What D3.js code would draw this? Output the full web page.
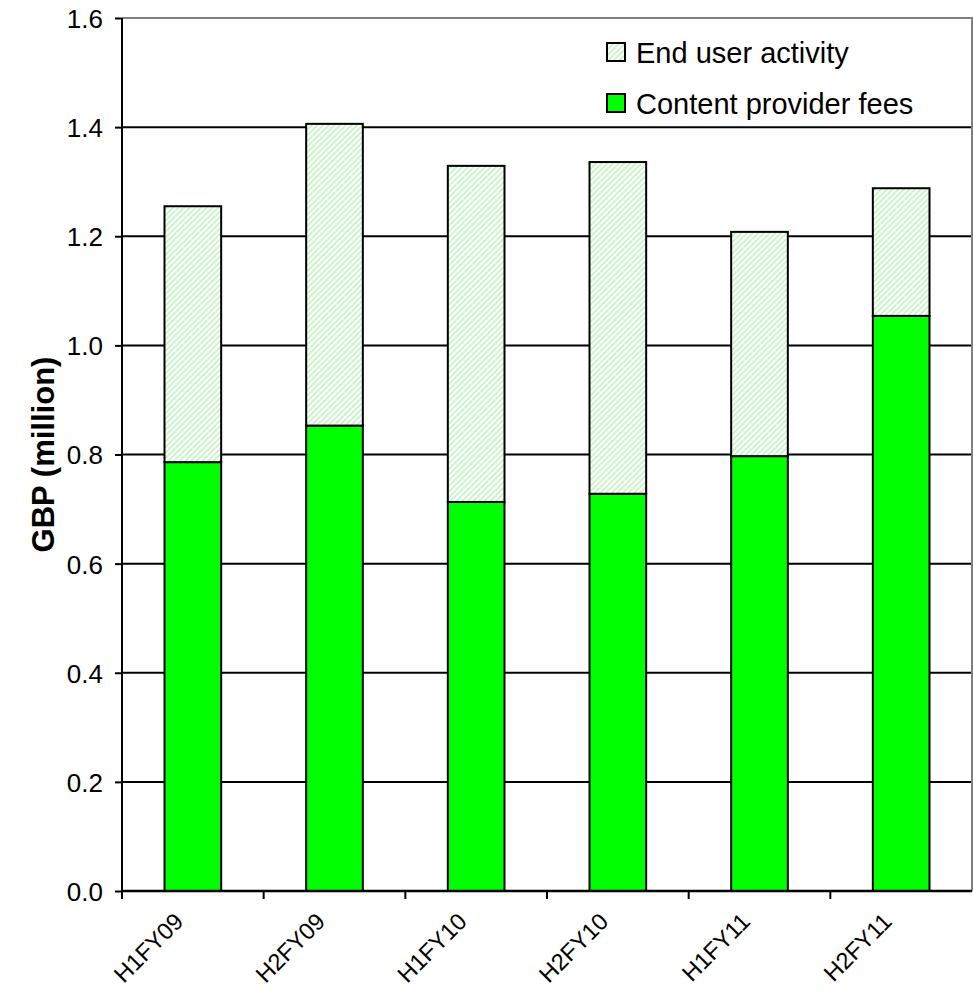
<!DOCTYPE html>
<html>
<head>
<meta charset="utf-8">
<script src="https://cdn.jsdelivr.net/npm/d3@7"></script>
<style>
  html, body { margin: 0; padding: 0; background: #fff; }
  svg { display: block; font-family: "Liberation Sans", Arial, sans-serif; }
</style>
</head>
<body>
<svg id="chart" width="973" height="991"></svg>
<script>
// Half-year periods and revenue split (GBP million)
const categories = ["H1FY09", "H2FY09", "H1FY10", "H2FY10", "H1FY11", "H2FY11"];
const contentProviderFees = [0.786, 0.853, 0.713, 0.728, 0.797, 1.054];
const totalRevenue = [1.255, 1.406, 1.329, 1.336, 1.208, 1.288];
const endUserActivity = totalRevenue.map((t, i) => +(t - contentProviderFees[i]).toFixed(3));
const yTicks = [0, 0.2, 0.4, 0.6, 0.8, 1.0, 1.2, 1.4, 1.6];
const seriesNames = ["End user activity", "Content provider fees"];

const svg = d3.select("#chart");
const plotLeft = 122, plotRight = 972, plotTop = 18, plotBottom = 891;

const x = d3.scaleBand().domain(categories).range([plotLeft, plotRight]).paddingInner(0.6).paddingOuter(0.3);
const y = d3.scaleLinear().domain([0, 1.6]).range([plotBottom, plotTop]);

// diagonal light-green hatch
const defs = svg.append("defs");
const pat = defs.append("pattern")
  .attr("id", "hatch").attr("patternUnits", "userSpaceOnUse")
  .attr("width", 4).attr("height", 4)
  .attr("patternTransform", "rotate(45)");
pat.append("rect").attr("width", 4).attr("height", 4).attr("fill", "#ffffff");
pat.append("rect").attr("width", 2).attr("height", 4).attr("fill", "#ccf5cc");

// gridlines
svg.append("g").selectAll("line").data(yTicks.filter(d => d > 0 && d < 1.6)).join("line")
  .attr("x1", plotLeft).attr("x2", plotRight)
  .attr("y1", d => y(d)).attr("y2", d => y(d))
  .attr("stroke", "#000").attr("stroke-width", 2);

// plot border (top and right)
svg.append("path")
  .attr("d", `M${plotLeft},${plotTop}H${plotRight}V${plotBottom}`)
  .attr("fill", "none").attr("stroke", "#808080").attr("stroke-width", 2);

// stacked data
const rows = categories.map((c, i) => ({ cat: c, fees: contentProviderFees[i], user: endUserActivity[i] }));
const stack = d3.stack().keys(["fees", "user"])(rows);

const barG = svg.append("g");
stack.forEach((layer, li) => {
  barG.append("g").selectAll("rect").data(layer).join("rect")
    .attr("x", d => x(d.data.cat))
    .attr("width", x.bandwidth())
    .attr("y", d => y(d[1]))
    .attr("height", d => y(d[0]) - y(d[1]))
    .attr("fill", li === 0 ? "#00ff00" : "url(#hatch)")
    .attr("stroke", "#000").attr("stroke-width", 2);
});

// y axis
const yAxis = svg.append("g").attr("transform", `translate(${plotLeft},0)`)
  .call(d3.axisLeft(y).tickValues(yTicks).tickFormat(d3.format(".1f")).tickSize(7).tickSizeOuter(0));
yAxis.select(".domain").attr("stroke", "#000").attr("stroke-width", 2).attr("d", `M0,${plotTop}V${plotBottom}`);
yAxis.selectAll(".tick line").attr("stroke", "#000").attr("stroke-width", 2);
yAxis.selectAll(".tick text")
  .attr("font-size", 26).attr("fill", "#000").attr("x", -19).attr("dy", "0.36em")
  .attr("font-family", "Liberation Sans, Arial, sans-serif");

// x axis baseline and boundary ticks
const boundaries = d3.range(categories.length).map(i => plotLeft + i * (plotRight - plotLeft) / categories.length);
const xg = svg.append("g");
xg.append("line").attr("x1", plotLeft).attr("x2", plotRight).attr("y1", plotBottom).attr("y2", plotBottom)
  .attr("stroke", "#000").attr("stroke-width", 2.5);
xg.selectAll(".xt").data(boundaries).join("line").attr("class", "xt")
  .attr("x1", d => d).attr("x2", d => d).attr("y1", plotBottom).attr("y2", plotBottom + 8)
  .attr("stroke", "#000").attr("stroke-width", 2);

// rotated category labels
xg.selectAll(".xl").data(categories).join("text").attr("class", "xl")
  .attr("transform", d => `translate(${x(d) + x.bandwidth() / 2 - 20},${plotBottom + 20}) rotate(-45)`)
  .attr("text-anchor", "end")
  .attr("font-size", 23.5)
  .attr("dy", "0.72em")
  .text(d => d);

// y axis title
svg.append("text")
  .attr("transform", `translate(54,${(plotTop + plotBottom) / 2}) rotate(-90)`)
  .attr("text-anchor", "middle")
  .attr("font-size", 31).attr("font-weight", "bold")
  .text("GBP (million)");

// legend
const legend = svg.append("g").attr("transform", "translate(607,43)");
seriesNames.forEach((name, i) => {
  const g = legend.append("g").attr("transform", `translate(0,${i * 51})`);
  g.append("rect").attr("width", 18).attr("height", 18)
    .attr("fill", i === 0 ? "url(#hatch)" : "#00ff00")
    .attr("stroke", "#000").attr("stroke-width", 2);
  g.append("text").attr("x", 29).attr("y", 10).attr("dy", "0.36em")
    .attr("font-size", 29).text(name);
});
</script>
</body>
</html>
